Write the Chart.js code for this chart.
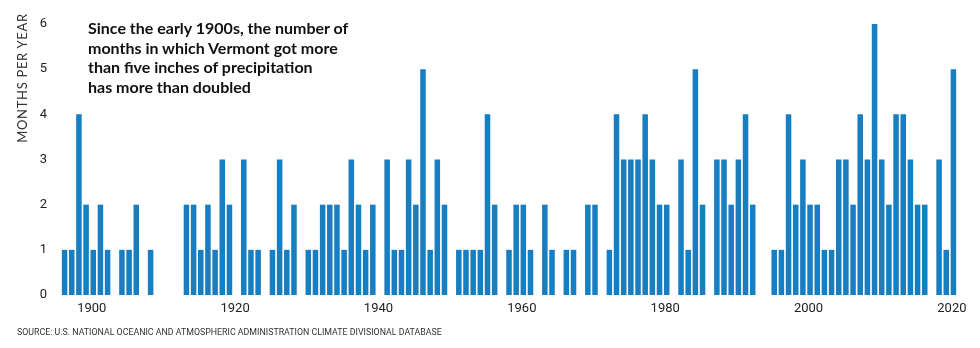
<!DOCTYPE html>
<html>
<head>
<meta charset="utf-8">
<script src="https://cdn.jsdelivr.net/npm/chart.js@4"></script>
<style>
  body { margin: 0; background: #fff; }
  #wrap { position: relative; width: 980px; height: 348px; }
  #headline {
    position: absolute; left: 88px; top: 18px;
    font: 700 16px/19.5px Lato, sans-serif; color: #111;
  }
  #ytitle {
    position: absolute; left: -46px; top: 70px; width: 136px; height: 16px;
    font: 400 13px/16px Lato, sans-serif; color: #333; text-align: center;
    letter-spacing: 0.7px;
    transform: rotate(-90deg); white-space: nowrap;
  }
  #source {
    position: absolute; left: 17px; top: 326px;
    font: 400 9px/12px Roboto, sans-serif; color: #333; white-space: nowrap;
    transform-origin: left center;
  }
</style>
</head>
<body>
<div id="wrap">
  <canvas id="myChart"></canvas>
  <div id="headline">Since the early 1900s, the number of<br>months in which Vermont got more<br>than five inches of precipitation<br>has more than doubled</div>
  <div id="ytitle">MONTHS PER YEAR</div>
  <div id="source">SOURCE: U.S. NATIONAL OCEANIC AND ATMOSPHERIC ADMINISTRATION CLIMATE DIVISIONAL DATABASE</div>
</div>
<script>
// Years on the x axis
const years = [
  1896, 1897, 1898, 1899,
  1900, 1901, 1902, 1903, 1904, 1905, 1906, 1907, 1908, 1909,
  1910, 1911, 1912, 1913, 1914, 1915, 1916, 1917, 1918, 1919,
  1920, 1921, 1922, 1923, 1924, 1925, 1926, 1927, 1928, 1929,
  1930, 1931, 1932, 1933, 1934, 1935, 1936, 1937, 1938, 1939,
  1940, 1941, 1942, 1943, 1944, 1945, 1946, 1947, 1948, 1949,
  1950, 1951, 1952, 1953, 1954, 1955, 1956, 1957, 1958, 1959,
  1960, 1961, 1962, 1963, 1964, 1965, 1966, 1967, 1968, 1969,
  1970, 1971, 1972, 1973, 1974, 1975, 1976, 1977, 1978, 1979,
  1980, 1981, 1982, 1983, 1984, 1985, 1986, 1987, 1988, 1989,
  1990, 1991, 1992, 1993, 1994, 1995, 1996, 1997, 1998, 1999,
  2000, 2001, 2002, 2003, 2004, 2005, 2006, 2007, 2008, 2009,
  2010, 2011, 2012, 2013, 2014, 2015, 2016, 2017, 2018, 2019,
  2020
];

// Months per year with more than 5 inches of precipitation
const wetMonths = [
  1, 1, 4, 2,
  1, 2, 1, 0, 1, 1, 2, 0, 1, 0,
  0, 0, 0, 2, 2, 1, 2, 1, 3, 2,
  0, 3, 1, 1, 0, 1, 3, 1, 2, 0,
  1, 1, 2, 2, 2, 1, 3, 2, 1, 2,
  0, 3, 1, 1, 3, 2, 5, 1, 3, 2,
  0, 1, 1, 1, 1, 4, 2, 0, 1, 2,
  2, 1, 0, 2, 1, 0, 1, 1, 0, 2,
  2, 0, 1, 4, 3, 3, 3, 4, 3, 2,
  2, 0, 3, 1, 5, 2, 0, 3, 3, 2,
  3, 4, 2, 0, 0, 1, 1, 4, 2, 3,
  2, 2, 1, 1, 3, 3, 2, 4, 3, 6,
  3, 2, 4, 4, 3, 2, 2, 0, 3, 1,
  5
];

const tickYears = [1900, 1920, 1940, 1960, 1980, 2000, 2020];
const yTicks = [0, 1, 2, 3, 4, 5, 6];

const ctx = document.getElementById('myChart').getContext('2d');
document.getElementById('myChart').parentNode.style.height = '348px';

const myChart = new Chart(ctx, {
  type: 'bar',
  data: {
    labels: years.map(String),
    datasets: [{
      data: wetMonths,
      backgroundColor: '#177ec1',
      borderWidth: 0,
      barPercentage: 0.77,
      categoryPercentage: 1
    }]
  },
  options: {
    responsive: true,
    maintainAspectRatio: false,
    animation: false,
    layout: { padding: { top: 24, right: 23, bottom: 0, left: 0 } },
    plugins: { legend: { display: false }, tooltip: { enabled: false } },
    scales: {
      x: {
        grid: { display: false, drawTicks: false },
        border: { display: false },
        afterFit: (s) => { s.height = 53; },
        ticks: {
          autoSkip: false,
          maxRotation: 0,
          padding: 6,
          labelOffset: -1.5,
          color: '#222',
          font: { family: 'Roboto', size: 13 },
          callback: (v, i) => tickYears.includes(years[i]) ? String(years[i]) : ''
        }
      },
      y: {
        min: yTicks[0],
        max: yTicks[yTicks.length - 1],
        grid: { display: false, drawTicks: false },
        border: { display: false },
        afterFit: (s) => { s.width = 61; },
        afterBuildTicks: (s) => { s.ticks = yTicks.map(v => ({ value: v })); },
        ticks: {
          padding: 14,
          color: '#222',
          font: { family: 'Roboto', size: 13 }
        }
      }
    }
  }
});

// stretch the source line to the reference width
const src = document.getElementById('source');
src.style.transform = 'scaleX(' + (425 / src.scrollWidth) + ')';
</script>
</body>
</html>
